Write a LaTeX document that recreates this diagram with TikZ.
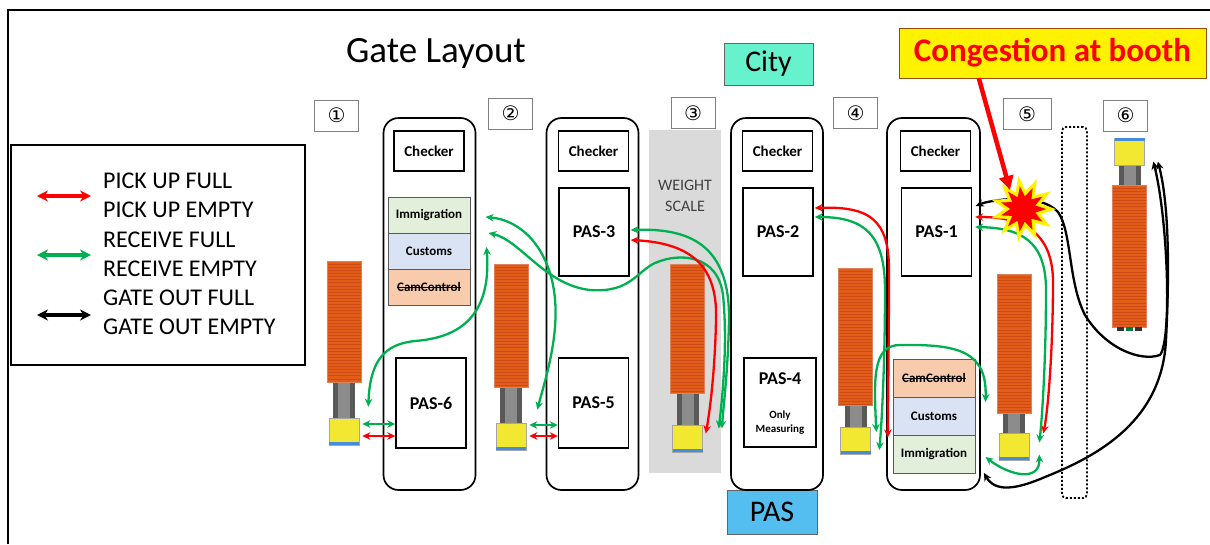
\documentclass[tikz,border=0pt]{standalone}
\usepackage{fontspec}
\setmainfont{Carlito}
\newfontfamily\symfont{DejaVu Sans}
\usetikzlibrary{arrows.meta,shapes.geometric,calc}

\definecolor{flowgreen}{RGB}{0,176,80}
\definecolor{flowred}{RGB}{255,0,0}
\definecolor{citygreen}{RGB}{102,242,204}
\definecolor{passky}{RGB}{85,190,240}
\definecolor{scalegray}{RGB}{218,218,218}
\definecolor{immfill}{RGB}{226,239,218}
\definecolor{cusfill}{RGB}{218,227,243}
\definecolor{camfill}{RGB}{248,203,173}
\definecolor{boxorange}{RGB}{226,92,26}
\definecolor{boxstripe}{RGB}{206,74,20}
\definecolor{cabyellow}{RGB}{242,232,50}
\definecolor{cabblue}{RGB}{70,140,220}

% struck-through word
\newcommand{\crossout}[1]{\leavevmode\setbox0\hbox{#1}\rlap{\rule[0.26em]{\wd0}{0.08em}}\box0}

\tikzset{
  booth/.style={draw, line width=1.7pt, rounded corners=15pt, minimum width=92pt, minimum height=372pt, inner sep=0pt},
  checkbox/.style={draw, line width=1.8pt, minimum width=70pt, minimum height=40pt, inner sep=0pt, font=\fontsize{15}{18}\selectfont\bfseries},
  pasbox/.style={draw, line width=1.4pt, minimum width=70pt, minimum height=88pt, inner sep=0pt, font=\fontsize{18}{21}\selectfont\bfseries},
  office/.style={draw=black!65, line width=1pt, fill=#1, minimum width=82pt, minimum height=36pt, inner sep=0pt, font=\fontsize{13}{15}\selectfont\bfseries},
  lanebox/.style={draw=black!50, line width=1pt, minimum width=44pt, minimum height=31pt, inner sep=0pt, font=\symfont\fontsize{20}{22}\selectfont},
  cabbox/.style={draw=black!35, line width=0.6pt, fill=cabyellow, minimum width=30pt, minimum height=27pt, inner sep=0pt},
  flow/.style={line width=2.3pt, {Stealth[length=8pt,width=7.5pt]}-{Stealth[length=8pt,width=7.5pt]}},
  gflow/.style={flow, color=flowgreen},
  rflow/.style={flow, color=flowred},
  kflow/.style={flow, color=black},
  keyflow/.style={line width=3.6pt, {Stealth[length=11pt,width=11pt]}-{Stealth[length=11pt,width=11pt]}},
}

% truck seen from above: #1 cab name, #2 centre x, #3/#4 container top/bottom,
% #5 cab centre y, #6 top of the blue edge on the cab
\newcommand{\lorry}[6]{%
  \fill[black!65] (#2-11,#5) rectangle (#2+11,{(#3+#4)/2});
  \fill[black!45] (#2-6,#5) rectangle (#2+6,{(#3+#4)/2});
  \fill[boxorange] (#2-17,#3) rectangle (#2+17,#4);
  \foreach \i in {1,...,46}{%
    \pgfmathsetmacro\yy{#3+3.1*\i}%
    \ifdim\yy pt<#4pt\draw[boxstripe, line width=0.5pt] (#2-16.5,\yy) -- (#2+16.5,\yy);\fi}
  \draw[boxstripe!70!white, line width=0.6pt] (#2-17,#3) rectangle (#2+17,#4);
  \node[cabbox] (#1) at (#2,#5) {};
  \fill[cabblue] (#2-15,#6) rectangle (#2+15,#6+3);
}

\begin{document}
\begin{tikzpicture}[x=1pt, y=-1pt]
  \useasboundingbox (0,0) rectangle (1210,544);
  \draw[line width=2pt] (8,544) -- (8,10) -- (1210,10);

  \node[font=\fontsize{37}{40}\selectfont, anchor=base] (title) at (436,62) {Gate Layout};

  % legend
  \node[draw, line width=2pt, minimum width=294pt, minimum height=220pt] (legend) at (158,255) {};
  \node[anchor=west, align=left, inner sep=0pt, font=\fontsize{24}{29.3}\selectfont] (legtext) at (103,254)
    {PICK UP FULL\\PICK UP EMPTY\\RECEIVE FULL\\RECEIVE EMPTY\\GATE OUT FULL\\GATE OUT EMPTY};
  \coordinate (keyred) at (37,196);
  \coordinate (keygreen) at (37,255);
  \coordinate (keyblack) at (37,315);
  \draw[keyflow, color=flowred] (keyred) -- ++(54,0);
  \draw[keyflow, color=flowgreen] (keygreen) -- ++(54,0);
  \draw[keyflow, color=black] (keyblack) -- ++(54,0);

  % city / pas side labels
  \node[draw=black!60, fill=citygreen, minimum width=89pt, minimum height=42pt, font=\fontsize{30}{32}\selectfont] (city) at (768.5,64) {City};
  \node[draw=black!60, fill=passky, minimum width=90pt, minimum height=44pt, font=\fontsize{30}{32}\selectfont] (pasgate) at (772,512) {PAS};

  % lane numbers
  \node[lanebox] (lane1) at (336.5,115.5) {①};
  \node[lanebox] (lane2) at (510.5,113.5) {②};
  \node[lanebox] (lane3) at (693,113) {③};
  \node[lanebox] (lane4) at (855.5,113) {④};
  \node[lanebox, minimum width=48pt] (lane5) at (1027,114) {⑤};
  \node[lanebox] (lane6) at (1125.5,115.5) {⑥};

  % weight scale and spare bay
  \node[fill=scalegray, minimum width=72pt, minimum height=343pt] (scale) at (685,301.5) {};
  \node[align=center, text=black!75, font=\fontsize{16}{21}\selectfont] (scalelbl) at (685,196) {WEIGHT\\SCALE};
  \node[draw, line width=1.8pt, dash pattern=on 2pt off 2pt, rounded corners=4pt, minimum width=25pt, minimum height=371pt] (bay) at (1074.5,312.5) {};

  % booths
  \node[booth] (booth1) at (429.5,304) {};
  \node[booth] (booth2) at (592.5,304) {};
  \node[booth] (booth3) at (777,304) {};
  \node[booth, minimum width=93pt] (booth4) at (933.5,304) {};

  \node[checkbox] (chk1) at (429,151) {Checker};
  \node[checkbox] (chk2) at (593.5,151) {Checker};
  \node[checkbox] (chk3) at (777.5,151) {Checker};
  \node[checkbox] (chk4) at (935.5,151) {Checker};

  \node[office=immfill] (imm1) at (429,215) {Immigration};
  \node[office=cusfill] (cus1) at (429,251) {Customs};
  \node[office=camfill] (cam1) at (429,287) {\crossout{CamControl}};

  \node[office=camfill, minimum height=38pt] (cam4) at (934,378) {\crossout{CamControl}};
  \node[office=cusfill, minimum height=38pt] (cus4) at (934,416) {Customs};
  \node[office=immfill, minimum height=38pt] (imm4) at (934,454) {Immigration};

  \node[pasbox, minimum height=90pt] (pas6) at (431,403) {PAS-6};
  \node[pasbox, minimum height=90pt] (pas5) at (593.5,403) {PAS-5};
  \node[pasbox] (pas3) at (594,232) {PAS-3};
  \node[pasbox] (pas2) at (778,232) {PAS-2};
  \node[pasbox] (pas1) at (936.5,232) {PAS-1};
  \node[pasbox, minimum width=72pt, minimum height=89pt] (pas4) at (780,402.5) {};
  \node[font=\fontsize{18}{21}\selectfont\bfseries] (pas4lbl) at (780,379) {PAS-4};
  \node[align=center, font=\fontsize{11}{14}\selectfont\bfseries] (pas4note) at (780,423) {Only\\Measuring};

  % trucks
  \lorry{cab1}{344}{261}{382}{431.5}{442}
  \lorry{cab2}{511}{264}{387}{436.5}{447}
  \lorry{cab3}{687.5}{264}{393}{438.5}{449}
  \lorry{cab4}{855.5}{268}{405}{440.5}{451}
  \lorry{cab5}{1014}{274}{413}{446.5}{457}
  \lorry{cab6}{1129.5}{185}{327}{151.5}{138}
  \fill[black!80] (1117,327) rectangle (1124,331);
  \fill[flowgreen!70!black] (1126,327) rectangle (1133,331);
  \fill[black!80] (1135,327) rectangle (1142,331);

  % lane 1
  \draw[gflow] ($(cab1.east)+(3,-7.5)$) -- ($(pas6.west)+(0,21)$);
  \draw[rflow] ($(cab1.east)+(3,4.5)$) -- ($(pas6.west)+(0,33)$);
  \draw[gflow] ($(cab1.north east)+(9,-11)$) .. controls (370,360) and (385,344) .. (415,341)
    .. controls (455,338) and (492,320) .. ($(cus1.east)+(16,-4)$);

  % lane 2
  \draw[gflow] ($(cab2.east)+(3,-11.5)$) -- ($(pas5.west)+(0,22)$);
  \draw[rflow] ($(cab2.east)+(3,-0.5)$) -- ($(pas5.west)+(0,33)$);
  \draw[gflow] ($(imm1.east)+(15,2)$) .. controls (520,220) and (545,245) .. (553,285)
    .. controls (562,330) and (545,380) .. ($(cab2.north east)+(11,-13)$);
  \draw[gflow] ($(cus1.east)+(18,-18)$) .. controls (520,240) and (545,285) .. (590,290)
    .. controls (630,293) and (636,272) .. (655,263)
    .. controls (680,252) and (718,255) .. (723,295)
    .. controls (728,345) and (722,400) .. ($(cab3.east)+(16,-10)$);

  % lane 3
  \draw[gflow] ($(pas3.east)+(1,-2)$) .. controls (690,228) and (730,245) .. (729,320)
    .. controls (728,370) and (724,400) .. ($(cab3.east)+(19,-10)$);
  \draw[rflow] ($(pas3.east)+(1,8)$) .. controls (690,243) and (718,265) .. (716,320)
    .. controls (715,370) and (710,410) .. ($(cab3.east)+(3,-5)$);

  % lane 4
  \draw[rflow] ($(pas2.east)+(1,-24)$) .. controls (870,206) and (889,220) .. (889,270)
    .. controls (889,330) and (888,400) .. ($(cab4.east)+(17,-3)$);
  \draw[gflow] ($(pas2.east)+(1,-15)$) .. controls (865,217) and (885,235) .. (885,290)
    .. controls (885,360) and (882,420) .. ($(cab4.east)+(8.5,9.5)$);
  \draw[gflow] ($(cab4.east)+(5.5,-8.5)$) .. controls (874,380) and (872,345) .. (900,345)
    .. controls (960,344) and (987,352) .. ($(cam4.east)+(10,24)$);

  % lane 5 and gate out
  \draw[kflow] ($(pas1.east)+(3.5,-26)$) .. controls (990,200) and (1040,192) .. (1058,212)
    .. controls (1072,232) and (1068,282) .. (1085,315)
    .. controls (1105,348) and (1140,362) .. (1160,355)
    .. controls (1172,340) and (1168,220) .. ($(cab6.east)+(8.5,10)$);
  \draw[kflow] ($(booth4.south east)+(3,-18)$) .. controls (995,492) and (1015,490) .. (1045,477)
    .. controls (1100,455) and (1162,420) .. (1166,340)
    .. controls (1170,260) and (1168,200) .. ($(cab6.east)+(13,10)$);
  \draw[rflow] ($(pas1.east)+(3,-15)$) .. controls (1020,217) and (1052,230) .. (1053,280)
    .. controls (1053,350) and (1048,410) .. ($(cab5.east)+(14,-13)$);
  \draw[gflow] ($(pas1.east)+(3,-5)$) .. controls (1020,228) and (1046,240) .. (1046,290)
    .. controls (1046,360) and (1042,420) .. ($(cab5.east)+(10,-4)$);
  \draw[gflow] ($(imm4.east)+(10,3)$) .. controls (1010,476) and (1040,482) .. ($(cab5.east)+(10,8)$);

  % congestion
  \node[star, star points=11, star point ratio=1.8, minimum size=66pt, inner sep=0pt, fill=yellow, rotate=8] (boom) at (1023,209) {};
  \node[star, star points=11, star point ratio=1.8, minimum size=46pt, inner sep=0pt, fill=flowred, rotate=8] (boomcore) at (boom.center) {};
  \node[draw=orange!60!black, fill=yellow, minimum width=307pt, minimum height=50pt, text=flowred,
        font=\fontsize{33}{35}\selectfont\bfseries] (jam) at (1052.5,53) {Congestion at booth};
  \draw[flowred, line width=4.5pt, -{Triangle[length=14pt,width=14pt]}] ($(jam.south west)+(80,0)$) -- ($(boom.center)+(-13,-19)$);
\end{tikzpicture}
\end{document}
